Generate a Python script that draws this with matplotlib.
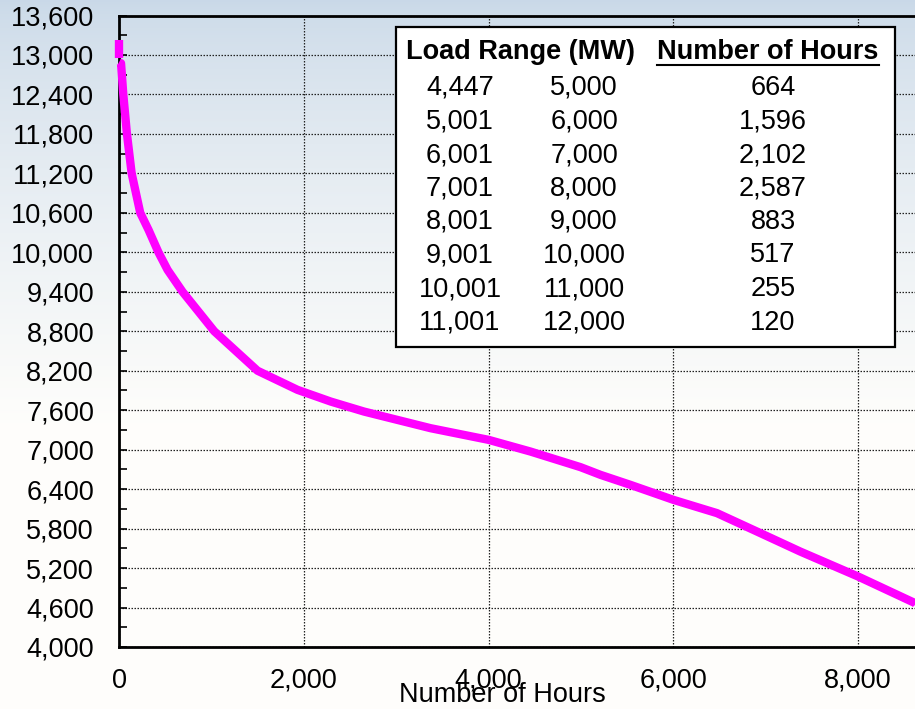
import matplotlib
matplotlib.use('Agg')
import matplotlib.pyplot as plt
import numpy as np
from matplotlib.lines import Line2D
from matplotlib.patches import Rectangle

plt.rcParams['font.family'] = ['Liberation Sans', 'DejaVu Sans']

# load duration curve
peak_hours = [0, 0]
peak_load = [13220, 12960]
hours = [0, 22, 47, 86, 137, 230, 320, 427, 526, 688, 1031, 1499, 1932,
         2292, 2652, 3373, 4000, 4454, 4995, 5211, 5535, 6000, 6472, 6905,
         7373, 8000, 8616, 8760]
load = [12890, 12874, 12392, 11800, 11200, 10600, 10340, 10000, 9732, 9400,
        8800, 8200, 7909, 7731, 7579, 7326, 7149, 6971, 6734, 6617, 6465,
        6237, 6035, 5755, 5451, 5071, 4667, 4447]

# inset table
range_low = ['4,447', '5,001', '6,001', '7,001', '8,001', '9,001', '10,001', '11,001']
range_high = ['5,000', '6,000', '7,000', '8,000', '9,000', '10,000', '11,000', '12,000']
n_hours = ['664', '1,596', '2,102', '2,587', '883', '517', '255', '120']

FS = 19.5
W, H = 915, 709
fig = plt.figure(figsize=(W / 100, H / 100), dpi=100)

# sky-ish backdrop
bg = fig.add_axes([0, 0, 1, 1], zorder=-10)
t = np.linspace(0, 1, 256)[:, None]
top = np.array([0.79, 0.85, 0.91])
bot = np.array([0.997, 0.995, 0.985])
w = np.clip(t / 0.6, 0, 1) ** 0.7
grad = top * (1 - w[..., None]) + bot * w[..., None]
grad = np.repeat(grad, 2, axis=1)
bg.imshow(grad, aspect='auto', extent=[0, 1, 0, 1], origin='upper')
bg.axis('off')

ax = fig.add_axes([119 / W, 1 - 647 / H, 1 - 119 / W, (647 - 15.5) / H])
ax.patch.set_alpha(0)

ax.plot(peak_hours, peak_load, color='#ff00ff', lw=6, solid_capstyle='butt',
        zorder=3, clip_on=False)
ax.plot(hours, load, color='#ff00ff', lw=6, solid_capstyle='butt',
        solid_joinstyle='round', zorder=3, clip_on=False)

ax.set_xlim(0, 8615)
ax.set_ylim(4000, 13600)
ax.set_yticks(np.arange(4000, 13601, 600))
ax.set_yticks(np.arange(4300, 13600, 600), minor=True)
ax.set_xticks([0, 2000, 4000, 6000, 8000])
ax.yaxis.set_major_formatter(matplotlib.ticker.StrMethodFormatter('{x:,.0f}'))
ax.xaxis.set_major_formatter(matplotlib.ticker.StrMethodFormatter('{x:,.0f}'))
ax.tick_params(axis='y', which='both', direction='in', length=6, width=1.2,
               labelsize=FS, pad=18)
ax.tick_params(axis='x', which='both', direction='in', length=0,
               labelsize=FS, pad=15)
ax.grid(True, which='major', color='#222222', ls=(0, (1.2, 1.2)), lw=0.9)
for s in ['left', 'bottom', 'top']:
    ax.spines[s].set_linewidth(2)
ax.spines['right'].set_visible(False)
ax.set_xlabel('Number of Hours', fontsize=FS)
ax.xaxis.set_label_coords((502 - 119) / (W - 119), -(695 - 647) / (647 - 15.5))
ax.xaxis.label.set_va('center')

# table box
box = Rectangle((396 / W, 1 - 347 / H), (895 - 396) / W, (347 - 27) / H,
                transform=fig.transFigure, facecolor='white', edgecolor='black',
                lw=1.6, zorder=5)
fig.add_artist(box)

hy = 1 - 52 / H
fig.text(520 / W, hy, 'Load Range (MW)', ha='center', va='center',
         fontsize=FS, fontweight='bold', zorder=6)
hdr = fig.text(768 / W, hy, 'Number of Hours', ha='center', va='center',
               fontsize=FS, fontweight='bold', zorder=6)
for i in range(len(n_hours)):
    y = 1 - (88 + i * 33.5) / H
    fig.text(460 / W, y, range_low[i], ha='center', va='center', fontsize=FS, zorder=6)
    fig.text(584 / W, y, range_high[i], ha='center', va='center', fontsize=FS, zorder=6)
    fig.text(773 / W, y, n_hours[i], ha='center', va='center', fontsize=FS, zorder=6)

fig.canvas.draw()
bb = hdr.get_window_extent().transformed(fig.transFigure.inverted())
uy = 1 - 65 / H
fig.add_artist(Line2D([bb.x0, bb.x1], [uy, uy], transform=fig.transFigure,
                      color='black', lw=1.5, zorder=6))

fig.savefig('out.png', dpi=100)
